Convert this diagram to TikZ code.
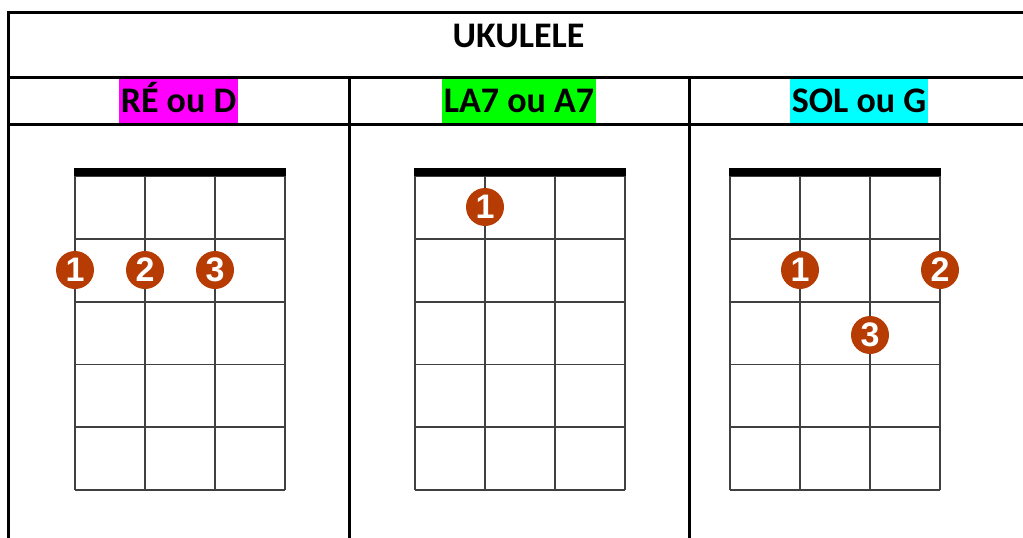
\documentclass[tikz,border=0pt]{standalone}
\usepackage{fontspec}
\setmainfont{Carlito}
\newfontfamily\numfont{Liberation Sans}
\definecolor{dotred}{RGB}{182,60,4}
\definecolor{hlmagenta}{RGB}{255,0,255}
\definecolor{hlgreen}{RGB}{0,255,0}
\definecolor{hlcyan}{RGB}{0,255,255}
\tikzset{
  tabline/.style={line width=3pt},
  fretline/.style={line width=1.8pt, draw=black!75},
  nutbar/.style={line width=8pt},
  finger/.style={circle, fill=dotred, minimum size=38pt, inner sep=0pt, text=white,
    font=\numfont\bfseries\fontsize{34}{34}\selectfont},
  chordname/.style={font=\bfseries\fontsize{36}{36}\selectfont, text height=23pt,
    text depth=0pt, inner xsep=1.5pt, inner ysep=10.5pt}
}
\begin{document}
\begin{tikzpicture}
			[x=1pt,y=-1pt,line join=miter]
			\useasboundingbox (0,0) rectangle (1023,538);
			% table
			\draw[tabline] (8,538) -- (8,12) -- (1023,12);
			\draw[tabline] (8,77) -- (1023,77) (8,124) -- (1023,124);
			\draw[tabline] (349,77) -- (349,538) (689,77) -- (689,538);
			\node[font=\bfseries\fontsize{36}{36}\selectfont, anchor=base] (titre) at (518.5,47) {UKULELE};
			\node[chordname, fill=hlmagenta] (re) at (178.5,100.5) {RÉ ou D};
			\node[chordname, fill=hlgreen] (la) at (519,100.5) {LA7 ou A7};
			\node[chordname, fill=hlcyan] (sol) at (859,100.5) {SOL ou G};
			% chord grids
			\foreach \gx in {75,415,730}{
				\foreach \i in {0,...,3} \draw[fretline] (\gx+70*\i,176) -- (\gx+70*\i,490);
				\foreach \j in {0,...,5} \draw[fretline] (\gx,176+62.8*\j) -- (\gx+210,176+62.8*\j);
				\draw[nutbar] (\gx-0.8,172) -- (\gx+210.8,172);
			}
			% fingers
			\node[finger] (re1) at (75,270) {1};
			\node[finger] (re2) at (145,270) {2};
			\node[finger] (re3) at (215,270) {3};
			\node[finger] (la1) at (485,207) {1};
			\node[finger] (sol1) at (800,270) {1};
			\node[finger] (sol2) at (940,270) {2};
			\node[finger] (sol3) at (870,335) {3};
		\end{tikzpicture}
\end{document}
